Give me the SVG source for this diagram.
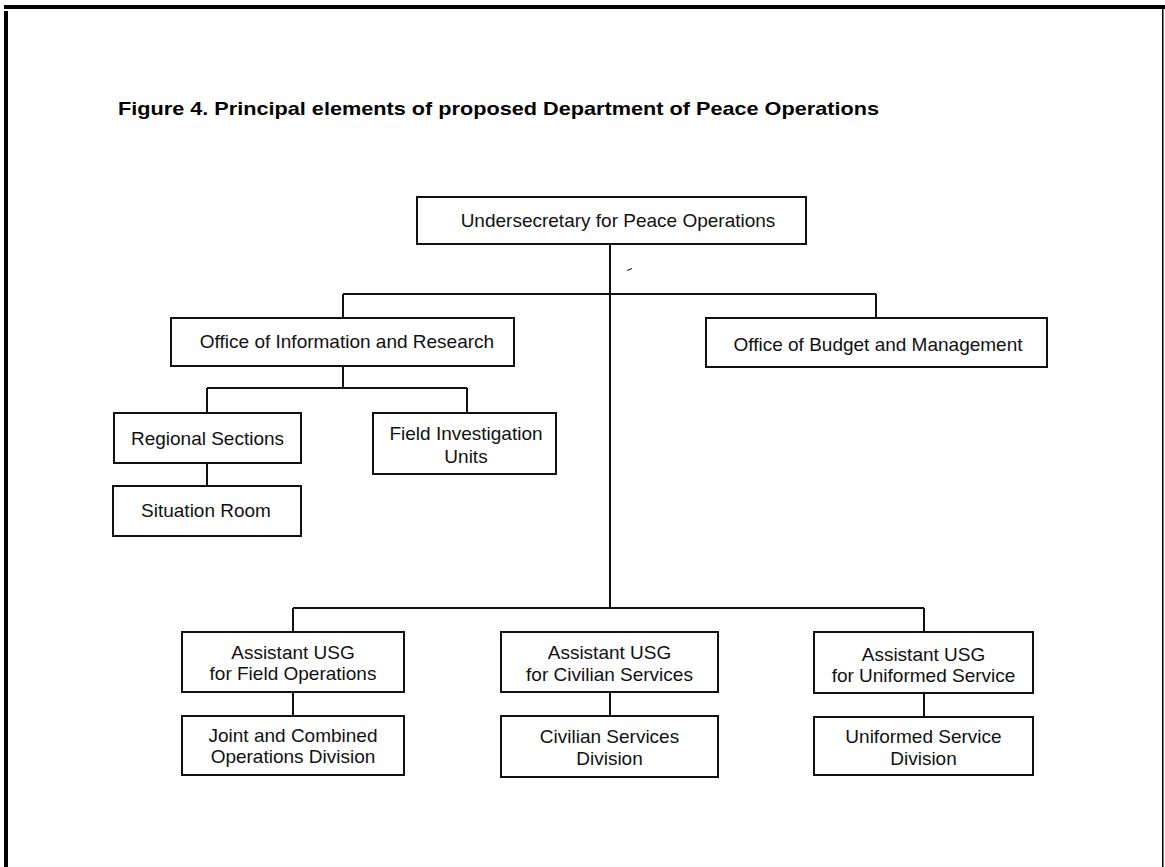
<svg xmlns="http://www.w3.org/2000/svg" width="1165" height="867" viewBox="0 0 1165 867">
  <style>
    .box { fill: #fff; stroke: #111; stroke-width: 2; }
    .lbl { font-family: "Liberation Sans", Arial, sans-serif; font-size: 19px; fill: #111; text-anchor: middle; }
    .title { font-family: "Liberation Sans", Arial, sans-serif; font-size: 18.5px; font-weight: bold; fill: #000; }
    .wire { fill: none; stroke: #111; stroke-width: 2; }
  </style>
  <rect width="1165" height="867" fill="#fff"/>

  <!-- page frame -->
  <g id="frame" fill="#000">
    <rect x="4" y="5" width="1161" height="4"/>
    <rect x="4" y="11" width="4" height="856"/>
    <rect x="1162" y="9" width="1.5" height="858"/>
  </g>

  <text class="title" x="118" y="115" textLength="761" lengthAdjust="spacingAndGlyphs">Figure 4. Principal elements of proposed Department of Peace Operations</text>

  <!-- connectors -->
  <g id="connectors" class="wire">
    <path d="M610 244 V608"/>
    <path d="M343 294 H876 M343 294 V318 M876 294 V318"/>
    <path d="M343 366 V388 M207 388 H467 M207 388 V413 M467 388 V413"/>
    <path d="M207 463 V486"/>
    <path d="M293 608 H924 M293 608 V632 M924 608 V632"/>
    <path d="M293 692 V716 M610 692 V716 M924 693 V717"/>
    <path d="M627 270.5 L632 268.5" stroke-width="1"/>
  </g>

  <g id="usg">
    <rect class="box" x="417" y="197" width="389" height="47"/>
    <text class="lbl" x="618" y="227">Undersecretary for Peace Operations</text>
  </g>

  <g id="info">
    <rect class="box" x="171" y="318" width="343" height="48"/>
    <text class="lbl" x="347" y="348">Office of Information and Research</text>
  </g>

  <g id="budget">
    <rect class="box" x="706" y="318" width="341" height="49"/>
    <text class="lbl" x="878" y="351">Office of Budget and Management</text>
  </g>

  <g id="regional">
    <rect class="box" x="114" y="413" width="187" height="50"/>
    <text class="lbl" x="207.5" y="445">Regional Sections</text>
  </g>

  <g id="field-inv">
    <rect class="box" x="373" y="413" width="183" height="61"/>
    <text class="lbl" x="466" y="440">Field Investigation</text>
    <text class="lbl" x="466" y="463">Units</text>
  </g>

  <g id="situation">
    <rect class="box" x="113" y="486" width="188" height="50"/>
    <text class="lbl" x="206" y="517">Situation Room</text>
  </g>

  <g id="asst-field">
    <rect class="box" x="182" y="632" width="222" height="60"/>
    <text class="lbl" x="293" y="659">Assistant USG</text>
    <text class="lbl" x="293" y="680">for Field Operations</text>
  </g>

  <g id="joint">
    <rect class="box" x="182" y="716" width="222" height="59"/>
    <text class="lbl" x="293" y="742">Joint and Combined</text>
    <text class="lbl" x="293" y="763">Operations Division</text>
  </g>

  <g id="asst-civ">
    <rect class="box" x="501" y="632" width="217" height="60"/>
    <text class="lbl" x="609.5" y="659">Assistant USG</text>
    <text class="lbl" x="609.5" y="681">for Civilian Services</text>
  </g>

  <g id="civ-div">
    <rect class="box" x="501" y="716" width="217" height="61"/>
    <text class="lbl" x="609.5" y="743">Civilian Services</text>
    <text class="lbl" x="609.5" y="765">Division</text>
  </g>

  <g id="asst-unif">
    <rect class="box" x="814" y="632" width="219" height="61"/>
    <text class="lbl" x="923.5" y="661">Assistant USG</text>
    <text class="lbl" x="923.5" y="682">for Uniformed Service</text>
  </g>

  <g id="unif-div">
    <rect class="box" x="814" y="717" width="219" height="58"/>
    <text class="lbl" x="923.5" y="743">Uniformed Service</text>
    <text class="lbl" x="923.5" y="765">Division</text>
  </g>
</svg>
